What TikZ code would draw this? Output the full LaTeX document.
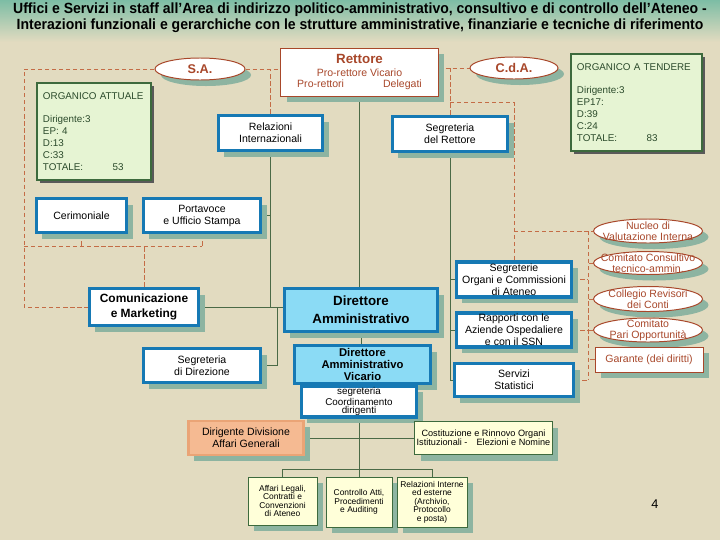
\documentclass[tikz,border=0pt]{standalone}
\usepackage{fontspec}
\setmainfont{Liberation Sans}
\newfontfamily\titlefont[FakeStretch=0.95]{Liberation Sans}
\usetikzlibrary{shapes.geometric,shadows}
\pgfdeclarelayer{background}
\pgfsetlayers{background,main}
\definecolor{bgc}{HTML}{E2DBC0}
\definecolor{titlec}{HTML}{7DBDA5}
\definecolor{brownc}{HTML}{A8472A}
\definecolor{dashc}{HTML}{C46C46}
\definecolor{boxblue}{HTML}{1679B4}
\definecolor{lightblue}{HTML}{8BDBF5}
\definecolor{lineg}{HTML}{4A6A46}
\definecolor{shadowc}{HTML}{8DB4A1}
\definecolor{orgfill}{HTML}{E6F4D3}
\definecolor{orgdraw}{HTML}{3D6A3D}
\definecolor{yelfill}{HTML}{FFFFD9}
\definecolor{orfill}{HTML}{F5BA92}
\definecolor{ordraw}{HTML}{EAA476}

\begin{document}
\begin{tikzpicture}[x=0.025cm,y=-0.025cm,
  bluebox/.style={draw=boxblue,line width=2.6pt,fill=white,align=center,inner sep=1pt,
    font=\fontsize{7.5}{8.5}\selectfont,
    drop shadow={shadow xshift=0.15cm,shadow yshift=-0.15cm,fill=shadowc,opacity=1}},
  dirbox/.style={bluebox,fill=lightblue},
  greenbox/.style={draw=orgdraw,line width=0.8pt,fill=orgfill,align=left,inner sep=0.15cm,
    text=orgdraw!70!black,font=\fontsize{7}{8.5}\selectfont,
    drop shadow={shadow xshift=0.07cm,shadow yshift=-0.07cm,fill=black!65,opacity=1}},
  yelbox/.style={draw=orgdraw,line width=0.7pt,fill=yelfill,align=center,inner sep=1pt,
    font=\fontsize{6}{6}\selectfont,
    drop shadow={shadow xshift=0.15cm,shadow yshift=-0.15cm,fill=shadowc,opacity=1}},
  brownbox/.style={draw=brownc,line width=0.7pt,fill=white,align=center,inner sep=1pt,
    text=brownc,font=\fontsize{7.5}{7.5}\selectfont,
    drop shadow={shadow xshift=0.15cm,shadow yshift=-0.15cm,fill=shadowc,opacity=1}},
  organo/.style={ellipse,draw=brownc,line width=0.7pt,fill=white,inner sep=0pt,
    text=brownc,font=\fontsize{9}{9}\selectfont\bfseries,
    drop shadow={shadow xshift=0.15cm,shadow yshift=-0.15cm,fill=shadowc,opacity=1}},
  organotext/.style={align=center,text=brownc,font=\fontsize{7.5}{7.5}\selectfont},
  gerarchia/.style={draw=lineg,line width=0.6pt},
  funzione/.style={draw=dashc,line width=0.6pt,dash pattern=on 3pt off 2pt}]
\useasboundingbox (0,0) rectangle (720,540);

\node[font={\titlefont\fontsize{10.5}{11.5}\selectfont\bfseries},align=center] (title) at (360,18)
  {Uffici e Servizi in staff all’Area di indirizzo politico-amministrativo, consultivo e di controllo dell’Ateneo -\\
   Interazioni funzionali e gerarchiche con le strutture amministrative, finanziarie e tecniche di riferimento};

\node[brownbox,minimum width=3.925cm,minimum height=1.2cm] (rettore) at (359.5,72)
  {{\fontsize{9.5}{11}\selectfont\bfseries Rettore}\\[2pt]Pro-rettore Vicario\\Pro-rettori\hspace{3.7em}Delegati};
\node[organo,minimum width=2.25cm,minimum height=0.55cm] (sa) at (200,69) {S.A.};
\node[organo,minimum width=2.2cm,minimum height=0.55cm] (cda) at (514,68) {C.d.A.};

\node[greenbox,text width=2.55cm,minimum height=2.425cm] (orgatt) at (94,131.5)
  {ORGANICO ATTUALE\\[8.5pt]Dirigente:3\\EP: 4\\D:13\\C:33\\TOTALE:\hspace{3em}53};
\node[greenbox,text width=2.975cm,minimum height=2.425cm] (orgten) at (636.5,102.5)
  {ORGANICO A TENDERE\\[8.5pt]Dirigente:3\\EP17:\\D:39\\C:24\\TOTALE:\hspace{3em}83};

\node[bluebox,minimum width=2.6cm,minimum height=0.875cm] (relint) at (270.5,133) {Relazioni\\Internazionali};
\node[bluebox,minimum width=2.875cm,minimum height=0.875cm] (segrett) at (450,134) {Segreteria\\del Rettore};
\node[bluebox,minimum width=2.25cm,minimum height=0.85cm] (cerim) at (81.5,215.5) {Cerimoniale};
\node[bluebox,minimum width=2.925cm,minimum height=0.85cm] (portav) at (202,215.5) {Portavoce\\e Ufficio Stampa};
\node[bluebox,minimum width=2.725cm,minimum height=0.925cm,font=\fontsize{8.5}{11}\selectfont\bfseries] (comun) at (144,307)
  {Comunicazione\\e Marketing};
\node[bluebox,minimum width=2.925cm,minimum height=0.85cm] (segdir) at (202,365.5) {Segreteria\\di Direzione};

\node[dirbox,minimum width=3.825cm,minimum height=1.075cm,font=\fontsize{9.5}{12.5}\selectfont\bfseries] (diramm) at (361,310)
  {Direttore\\Amministrativo};
\node[dirbox,minimum width=3.4cm,minimum height=0.95cm,font=\fontsize{8}{8.5}\selectfont\bfseries] (dirvic) at (362.5,364.5)
  {Direttore\\Amministrativo\\Vicario};
\node[bluebox,minimum width=2.875cm,minimum height=0.55cm,font=\fontsize{7}{6}\selectfont] (segcoord) at (359,401.5)
  {segreteria\\Coordinamento\\dirigenti};

\node[bluebox,minimum width=2.875cm,minimum height=0.85cm] (segorg) at (514,279.5) {Segreterie\\Organi e Commissioni\\di Ateneo};
\node[bluebox,minimum width=2.875cm,minimum height=0.825cm] (rapporti) at (514,330) {Rapporti con le\\Aziende Ospedaliere\\e con il SSN};
\node[bluebox,minimum width=2.975cm,minimum height=0.825cm] (servizi) at (514,380) {Servizi\\Statistici};

\node[organo,minimum width=2.725cm,minimum height=0.6cm,label={[organotext]center:Nucleo di\\Valutazione Interna}] (nucleo) at (648,231) {};
\node[organo,minimum width=2.725cm,minimum height=0.575cm,label={[organotext]center:Comitato Consultivo\\tecnico-ammin.}] (comcons) at (648,263) {};
\node[organo,minimum width=2.725cm,minimum height=0.625cm,label={[organotext]center:Collegio Revisori\\dei Conti}] (collegio) at (648,299) {};
\node[organo,minimum width=2.725cm,minimum height=0.6cm,label={[organotext]center:Comitato\\Pari Opportunità}] (compari) at (648,330) {};
\node[brownbox,minimum width=2.7cm,minimum height=0.625cm] (garante) at (649,359.5) {Garante (dei diritti)};

\node[draw=ordraw,line width=2pt,fill=orfill,align=center,minimum width=2.875cm,minimum height=0.85cm,
  font=\fontsize{7.5}{8.5}\selectfont,
  drop shadow={shadow xshift=0.15cm,shadow yshift=-0.15cm,fill=shadowc,opacity=1}] (dirdiv) at (246,438)
  {Dirigente Divisione\\Affari Generali};
\node[yelbox,minimum width=3.425cm,minimum height=0.825cm,font=\fontsize{6.5}{6.5}\selectfont] (costit) at (483.5,438)
  {Costituzione e Rinnovo Organi\\Istituzionali -\quad Elezioni e Nomine};
\node[yelbox,minimum width=1.725cm,minimum height=1.2cm] (afflegali) at (282.5,501) {Affari Legali,\\Contratti e\\Convenzioni\\di Ateneo};
\node[yelbox,minimum width=1.65cm,minimum height=1.25cm] (controllo) at (359,502) {Controllo Atti,\\Procedimenti\\e Auditing};
\node[yelbox,minimum width=1.75cm,minimum height=1.25cm] (relinterne) at (432,502) {Relazioni Interne\\ed esterne\\(Archivio,\\Protocollo\\e posta)};

\node[font=\fontsize{9}{9}\selectfont] (pagenum) at (655,504) {4};

\coordinate (sacorner) at (24,69);
\coordinate (cerbus) at (24,246);
\coordinate (dirjoint) at (277,307);
\coordinate (cdajoint) at (450,102);
\coordinate (orgbus) at (588,231);
\coordinate (orgend) at (588,380);
\coordinate (afbus) at (359,469);

\begin{pgfonlayer}{background}
\fill[bgc] (0,0) rectangle (720,540);
\shade[top color=titlec,bottom color=bgc] (0,0) rectangle (720,42);

\draw[funzione] (sa.west) -- (sacorner) |- (comun.west);
\draw[funzione] (sa.east) -- (sa.east -| rettore.west);
\draw[funzione] (relint.north) -- (relint.north |- sa.east);
\draw[funzione] (cerbus) -- (cerbus -| portav.south);
\draw[funzione] (cerim.south) -- (cerim.south |- cerbus);
\draw[funzione] (portav.south) -- (portav.south |- cerbus);
\draw[funzione] (comun.north) -- (comun.north |- cerbus);
\draw[funzione] (cda.west -| rettore.east) -- (cda.west);
\draw[funzione] (segrett.north) -- (segrett.north |- cda.west);
\draw[funzione] (cdajoint) -| (segorg.north);
\draw[funzione] (segorg.north |- orgbus) -- (nucleo.west);
\draw[funzione] (orgbus) -- (orgend);
\draw[funzione] (comcons.west) -- (comcons.west -| orgbus);
\draw[funzione] (collegio.west) -- (collegio.west -| orgbus);
\draw[funzione] (compari.west) -- (compari.west -| orgbus);
\draw[funzione] (garante.west) -- (garante.west -| orgbus);
\draw[funzione] (segorg.east) -- (segorg.east -| orgbus);
\draw[funzione] (rapporti.east) -- (rapporti.east -| orgbus);
\draw[funzione] (servizi.east) -- (servizi.east -| orgbus);

\draw[gerarchia] (rettore.south) -- (rettore.south |- diramm.north);
\draw[gerarchia] (relint.south) -- (relint.south |- comun.east);
\draw[gerarchia] (portav.east) -- (portav.east -| relint.south);
\draw[gerarchia] (comun.east) -- (comun.east -| diramm.west);
\draw[gerarchia] (segdir.east) -| (dirjoint);
\draw[gerarchia] (diramm.south) -- (diramm.south |- dirvic.north);
\draw[gerarchia] (segrett.south) -- (segrett.south |- servizi.west);
\draw[gerarchia] (segorg.west) -- (segorg.west -| segrett.south);
\draw[gerarchia] (rapporti.west) -- (rapporti.west -| segrett.south);
\draw[gerarchia] (servizi.west) -- (servizi.west -| segrett.south);
\draw[gerarchia] (segcoord.south) -- (afbus);
\draw[gerarchia] (dirdiv.east) -- (costit.west);
\draw[gerarchia] (afflegali.north) |- (afbus) -| (relinterne.north);
\draw[gerarchia] (afbus) -- (controllo.north);
\end{pgfonlayer}
\end{tikzpicture}
\end{document}
